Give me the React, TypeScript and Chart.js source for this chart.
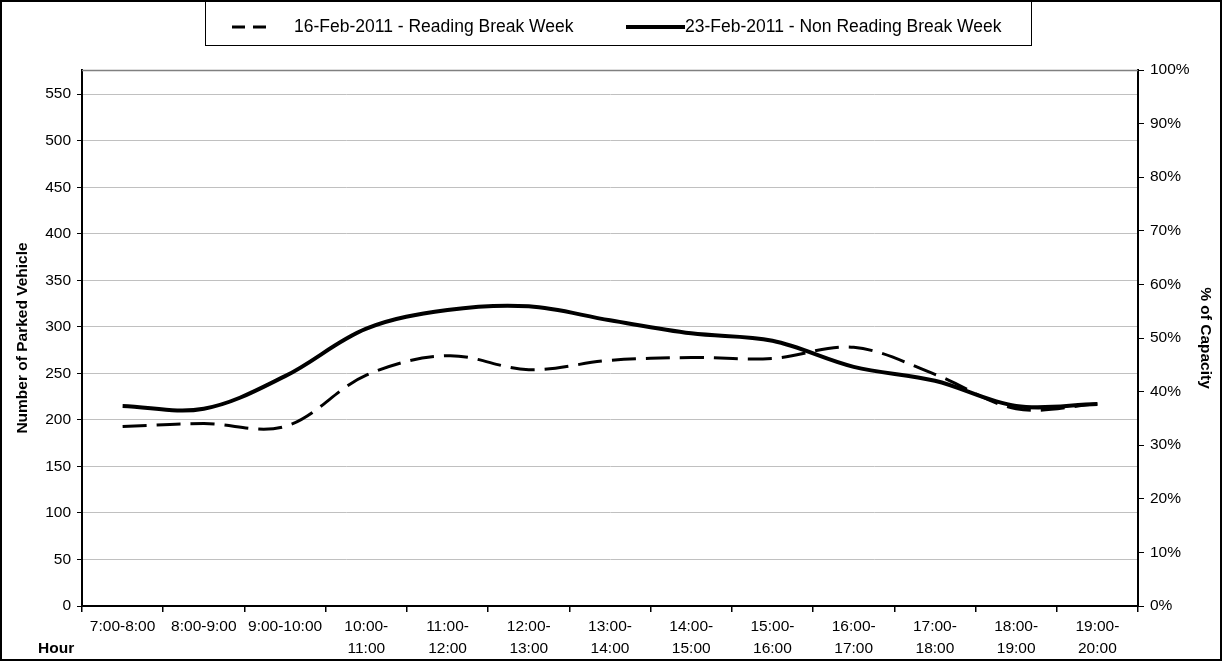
import React, { useEffect, useRef } from "react";
import { Chart, registerables } from "chart.js";

Chart.register(...registerables);

const hourLabels: string[][] = [
  ["7:00-8:00"],
  ["8:00-9:00"],
  ["9:00-10:00"],
  ["10:00-", "11:00"],
  ["11:00-", "12:00"],
  ["12:00-", "13:00"],
  ["13:00-", "14:00"],
  ["14:00-", "15:00"],
  ["15:00-", "16:00"],
  ["16:00-", "17:00"],
  ["17:00-", "18:00"],
  ["18:00-", "19:00"],
  ["19:00-", "20:00"],
];

const readingBreak = [193, 196, 193, 248, 269, 254, 264, 267, 266, 278, 249, 212, 217];
const nonReadingBreak = [215, 212, 247, 298, 318, 322, 307, 293, 285, 257, 242, 215, 217];

const capacity = 576;
const vehicleTicks = [0, 50, 100, 150, 200, 250, 300, 350, 400, 450, 500, 550];
const percentTicks = [0, 10, 20, 30, 40, 50, 60, 70, 80, 90, 100];

const seriesNames = ["16-Feb-2011 - Reading Break Week", "23-Feb-2011 - Non Reading Break Week"];
const xTitle = "Hour";
const yTitle = "Number of Parked Vehicle";
const y1Title = "% of Capacity";

const FONT = "'Liberation Sans', Arial, Helvetica, sans-serif";

const framePlugin = {
  id: "frame",
  afterDraw(chart: any) {
    const ctx: CanvasRenderingContext2D = chart.ctx;
    const area = chart.chartArea;
    ctx.save();
    // plot area top border
    ctx.strokeStyle = "#808080";
    ctx.lineWidth = 1.5;
    ctx.beginPath();
    ctx.moveTo(area.left, area.top + 0.5);
    ctx.lineTo(area.right, area.top + 0.5);
    ctx.stroke();

    // outer border
    ctx.strokeStyle = "#000";
    ctx.lineWidth = 2;
    ctx.strokeRect(1, 1, chart.width - 2, chart.height - 2);

    // legend box
    ctx.lineWidth = 1;
    ctx.strokeStyle = "#000";
    ctx.strokeRect(205.5, 1, 826, 44.5);

    const ly = 27;
    // dashed sample
    ctx.lineWidth = 3;
    ctx.setLineDash([13, 8]);
    ctx.beginPath();
    ctx.moveTo(232, ly);
    ctx.lineTo(267, ly);
    ctx.stroke();
    ctx.setLineDash([]);
    // solid sample
    ctx.lineWidth = 4;
    ctx.beginPath();
    ctx.moveTo(626, ly);
    ctx.lineTo(685, ly);
    ctx.stroke();

    ctx.fillStyle = "#000";
    ctx.font = `17.5px ${FONT}`;
    ctx.textBaseline = "middle";
    ctx.textAlign = "left";
    ctx.fillText(seriesNames[0], 294, ly);
    ctx.fillText(seriesNames[1], 685, ly);

    // x title
    ctx.font = `bold 15.5px ${FONT}`;
    ctx.fillText(xTitle, 38, 649);
    ctx.restore();
  },
};

export default function App() {
  const ref = useRef<HTMLCanvasElement>(null);

  useEffect(() => {
    document.body.style.margin = "0";
    const canvas = ref.current!;
    const tickFont = { family: FONT, size: 15.5, lineHeight: 1.4 };
    const titleFont = { family: FONT, size: 15.5, weight: "bold" as const };
    const chart = new Chart(canvas, {
      type: "line",
      data: {
        labels: hourLabels,
        datasets: [
          {
            label: seriesNames[0],
            data: readingBreak,
            borderColor: "#000",
            backgroundColor: "#000",
            borderWidth: 3,
            borderDash: [24, 10],
            pointRadius: 0,
            tension: 0.35,
            fill: false,
            yAxisID: "y",
          },
          {
            label: seriesNames[1],
            data: nonReadingBreak,
            borderColor: "#000",
            backgroundColor: "#000",
            borderWidth: 4,
            pointRadius: 0,
            tension: 0.35,
            fill: false,
            yAxisID: "y",
          },
        ],
      },
      options: {
        responsive: false,
        animation: false,
        devicePixelRatio: 1,
        layout: { padding: { top: 70, left: 0, right: 0, bottom: 0 } },
        plugins: {
          legend: { display: false },
          tooltip: { enabled: false },
        },
        scales: {
          x: {
            type: "category",
            offset: true,
            grid: {
              offset: true,
              drawOnChartArea: false,
              tickLength: 6,
              color: "#000",
              tickColor: "#000",
              lineWidth: 1.5,
            },
            border: { color: "#000", width: 2 },
            ticks: {
              color: "#000",
              font: tickFont,
              padding: 4,
              maxRotation: 0,
              minRotation: 0,
              autoSkip: false,
            },
            afterFit: (s: any) => {
              s.height = 55;
            },
          },
          y: {
            position: "left",
            min: 0,
            max: capacity,
            afterBuildTicks: (s: any) => {
              s.ticks = vehicleTicks.map((v) => ({ value: v }));
            },
            grid: { color: "#c0c0c0", tickColor: "#000", tickLength: 5, lineWidth: 1 },
            border: { color: "#000", width: 2 },
            ticks: { color: "#000", font: tickFont, padding: 6 },
            title: {
              display: true,
              text: yTitle,
              color: "#000",
              font: titleFont,
              padding: { top: 13, bottom: 0 },
            },
            afterFit: (s: any) => {
              s.width = 82;
            },
          },
          y1: {
            position: "right",
            min: 0,
            max: 100,
            afterBuildTicks: (s: any) => {
              s.ticks = percentTicks.map((v) => ({ value: v }));
            },
            grid: { drawOnChartArea: false, tickColor: "#000", tickLength: 6 },
            border: { color: "#000", width: 2 },
            ticks: {
              color: "#000",
              font: tickFont,
              padding: 6,
              callback: (v: any) => `${v}%`,
            },
            title: {
              display: true,
              text: y1Title,
              color: "#000",
              font: titleFont,
              padding: { top: 7, bottom: 0 },
            },
            afterFit: (s: any) => {
              s.width = 84;
            },
          },
        },
      },
      plugins: [framePlugin],
    });
    return () => chart.destroy();
  }, []);

  return <canvas ref={ref} width={1222} height={661} style={{ display: "block" }} />;
}
